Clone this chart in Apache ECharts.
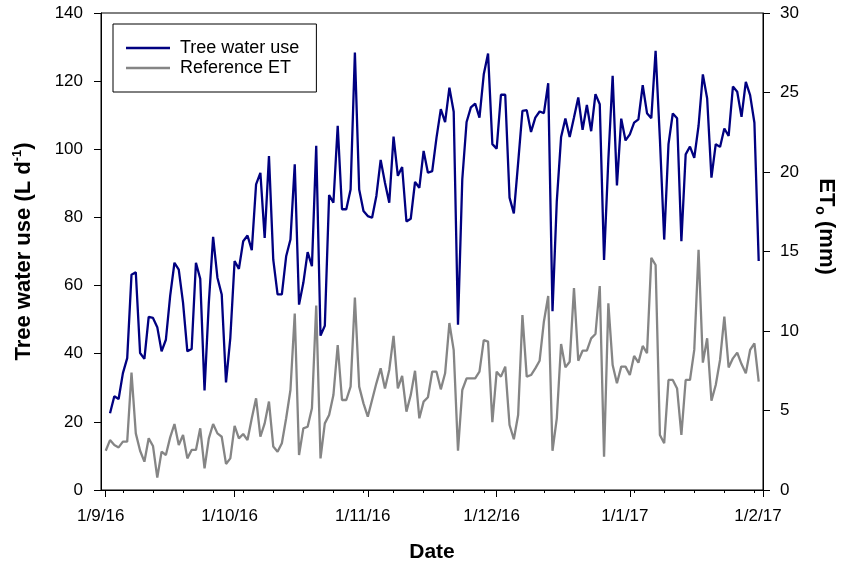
<!DOCTYPE html>
<html>
<head>
<meta charset="utf-8">
<title>Tree water use and reference ET</title>
<script src="https://cdn.jsdelivr.net/npm/echarts@6/dist/echarts.min.js"></script>
<style>
  html, body { margin: 0; padding: 0; background: #fff; }
  #chart { width: 844px; height: 567px; }
</style>
</head>
<body>
<div id="chart"></div>
<script>
  // daily tree water use (L/d), 2 Sep 2016 .. 31 Jan 2017
  const treeWaterUse = [
    22.5, 27.5, 26.7, 34.3, 38.7, 63.2, 63.9, 40.2, 38.5, 50.8,
    50.5, 47.8, 40.7, 44.1, 57.0, 66.7, 64.7, 54.9, 40.7, 41.4,
    66.7, 62.0, 29.2, 55.0, 74.3, 62.3, 57.4, 31.6, 44.6, 67.2,
    64.9, 73.0, 74.7, 70.4, 89.7, 93.1, 74.0, 98.0, 67.6, 57.4,
    57.4, 68.6, 73.5, 95.6, 54.4, 60.8, 69.8, 65.7, 101.0, 45.3,
    48.2, 86.6, 84.3, 106.9, 82.4, 82.4, 88.2, 128.4, 88.2, 81.9,
    80.4, 79.9, 86.3, 96.9, 90.2, 84.3, 103.7, 92.2, 94.8, 78.8,
    79.6, 90.4, 88.7, 99.5, 93.1, 93.6, 103.4, 111.8, 108.0, 118.1,
    111.0, 48.5, 91.2, 108.0, 112.3, 113.4, 109.3, 122.0, 128.1, 101.5,
    100.2, 116.0, 116.0, 85.8, 81.2, 96.0, 111.3, 111.5, 105.1, 109.3,
    111.1, 110.6, 119.4, 52.5, 84.8, 103.6, 109.0, 103.6, 109.3, 115.2,
    105.7, 113.0, 105.3, 116.2, 113.2, 67.5, 97.0, 121.6, 89.4, 109.0,
    102.6, 104.4, 107.8, 108.8, 118.8, 110.6, 109.1, 128.9, 103.0, 73.5,
    101.5, 110.5, 109.1, 73.0, 98.5, 100.8, 97.5, 106.9, 122.0, 114.9,
    91.7, 101.5, 100.7, 106.1, 103.9, 118.4, 116.9, 109.5, 119.8, 115.9,
    107.8, 67.2
  ]

  // daily reference ET (mm), 1 Sep 2016 .. 31 Jan 2017
  const referenceET = [
    2.47,
    3.14, 2.83, 2.68, 3.04, 3.04, 7.38, 3.56, 2.47, 1.78, 3.25,
    2.77, 0.78, 2.41, 2.20, 3.31, 4.15, 2.83, 3.46, 1.99, 2.52,
    2.52, 3.88, 1.36, 3.25, 4.15, 3.56, 3.35, 1.64, 1.99, 4.03,
    3.25, 3.52, 3.14, 4.51, 5.77, 3.35, 4.19, 5.56, 2.73, 2.41,
    2.94, 4.51, 6.29, 11.1, 2.20, 3.88, 3.98, 5.14, 11.6, 1.99,
    4.19, 4.72, 5.97, 9.12, 5.66, 5.66, 6.50, 12.1, 6.50, 5.45,
    4.61, 5.66, 6.71, 7.65, 6.39, 7.55, 9.69, 6.39, 7.17, 4.93,
    5.97, 7.50, 4.51, 5.56, 5.83, 7.44, 7.44, 6.33, 7.34, 10.5,
    8.80, 2.47, 6.29, 7.02, 7.02, 7.02, 7.44, 9.43, 9.33, 4.26,
    7.44, 7.13, 7.76, 4.09, 3.19, 4.72, 11.0, 7.13, 7.23, 7.65,
    8.13, 10.6, 12.2, 2.47, 4.51, 9.18, 7.71, 8.07, 12.7, 8.13,
    8.76, 8.76, 9.54, 9.81, 12.83, 2.10, 11.74, 7.86, 6.71, 7.76,
    7.76, 7.23, 8.43, 8.01, 9.06, 8.60, 14.6, 14.15, 3.46, 2.94,
    6.92, 6.92, 6.39, 3.46, 6.92, 6.92, 8.81, 15.1, 8.01, 9.54,
    5.62, 6.60, 8.18, 10.9, 7.71, 8.28, 8.64, 7.92, 7.34, 8.81,
    9.22, 6.81
  ]

  const tickDates = ['2016-09-01', '2016-10-01', '2016-11-01', '2016-12-01', '2017-01-01', '2017-02-01']
  const tickLabels = ['1/9/16', '1/10/16', '1/11/16', '1/12/16', '1/1/17', '1/2/17']

  const DAY = 86400000
  const treeStart = Date.UTC(2016, 8, 2)
  const etStart = Date.UTC(2016, 8, 1)
  const monthTicks = tickDates.map(function (d) { return Date.parse(d + 'T00:00:00Z') })

  // weekly minor ticks (Mondays)
  let weekTicks = []
  for (let t = Date.UTC(2016, 8, 5); t < monthTicks[monthTicks.length - 1]; t += 7 * DAY) {
    weekTicks.push(t)
  }

  const treeData = treeWaterUse.map(function (v, i) { return [treeStart + i * DAY, v] })
  const etData = referenceET.map(function (v, i) { return [etStart + i * DAY, v] })

  const axisColor = '#000'
  const font = 'Arial, "Liberation Sans", sans-serif'
  const xMin = monthTicks[0] - 1.1 * DAY
  const xMax = monthTicks[monthTicks.length - 1]
  const lineIcon = 'path://M0,0L44,0L44,2.4L0,2.4Z'

  let chart = echarts.init(document.getElementById('chart'))
  let option = {
    animation: false,
    textStyle: { fontFamily: font },
    grid: {
      left: 101,
      right: 81,
      top: 13,
      bottom: 77,
      outerBoundsMode: 'none',
      show: true,
      borderColor: axisColor,
      borderWidth: 1
    },
    legend: {
      data: [
        { name: 'Tree water use', icon: lineIcon },
        { name: 'Reference ET', icon: lineIcon }
      ],
      orient: 'vertical',
      left: 113,
      top: 24,
      padding: [15, 17, 15, 13],
      borderColor: axisColor,
      borderWidth: 1,
      itemWidth: 44,
      itemHeight: 18,
      itemGap: 2,
      textStyle: { fontSize: 18, color: '#000', fontFamily: font, padding: [0, 0, 0, 5] }
    },
    xAxis: [
      {
        type: 'value',
        min: xMin,
        max: xMax,
        position: 'bottom',
        axisLine: { show: true, lineStyle: { color: axisColor, width: 1 } },
        axisTick: { show: true, customValues: monthTicks, length: 7, lineStyle: { color: axisColor } },
        axisLabel: {
          customValues: monthTicks,
          formatter: function (value) {
            let idx = monthTicks.indexOf(value)
            return idx >= 0 ? tickLabels[idx] : ''
          },
          fontSize: 17,
          color: '#000',
          margin: 18,
          padding: [0, 10, 0, 0]
        },
        splitLine: { show: false },
        name: 'Date',
        nameLocation: 'middle',
        nameGap: 52,
        nameTextStyle: { fontSize: 21, fontWeight: 'bold', color: '#000' }
      },
      {
        type: 'value',
        min: xMin,
        max: xMax,
        position: 'bottom',
        axisLine: { show: false },
        axisTick: { show: true, customValues: weekTicks, length: 3, lineStyle: { color: axisColor } },
        axisLabel: { show: false },
        splitLine: { show: false }
      }
    ],
    yAxis: [
      {
        type: 'value',
        min: 0,
        max: 140,
        interval: 20,
        position: 'left',
        axisLine: { show: true, lineStyle: { color: axisColor, width: 1 } },
        axisTick: { show: true, length: 7, lineStyle: { color: axisColor } },
        axisLabel: { fontSize: 17, color: '#000', margin: 18 },
        splitLine: { show: false },
        name: '{a|Tree water use (L d}{s|-1}{a|)}',
        nameLocation: 'middle',
        nameRotate: 90,
        nameGap: 65,
        nameTextStyle: {
          rich: {
            a: { fontSize: 22, fontWeight: 'bold', color: '#000', fontFamily: font },
            s: { fontSize: 13, fontWeight: 'bold', color: '#000', fontFamily: font, padding: [0, 0, 12, 0] }
          }
        }
      },
      {
        type: 'value',
        min: 0,
        max: 30,
        interval: 5,
        position: 'right',
        axisLine: { show: true, lineStyle: { color: axisColor, width: 1 } },
        axisTick: { show: true, length: 7, lineStyle: { color: axisColor } },
        axisLabel: { fontSize: 17, color: '#000', margin: 17 },
        splitLine: { show: false },
        name: '{a|ET}{s|o}{a| (mm)}',
        nameLocation: 'middle',
        nameRotate: -90,
        nameGap: 50,
        nameTextStyle: {
          padding: [0, 50, 0, 0],
          rich: {
            a: { fontSize: 22, fontWeight: 'bold', color: '#000', fontFamily: font },
            s: { fontSize: 14, fontWeight: 'bold', color: '#000', fontFamily: font, padding: [12, 0, 0, 0] }
          }
        }
      }
    ],
    series: [
      {
        name: 'Reference ET',
        type: 'line',
        yAxisIndex: 1,
        data: etData,
        symbol: 'none',
        color: '#858585',
        lineStyle: { width: 2.3, color: '#858585' },
        z: 2
      },
      {
        name: 'Tree water use',
        type: 'line',
        yAxisIndex: 0,
        data: treeData,
        symbol: 'none',
        color: '#000080',
        lineStyle: { width: 2.3, color: '#000080' },
        z: 3
      }
    ]
  }
  chart.setOption(option)
</script>
</body>
</html>
